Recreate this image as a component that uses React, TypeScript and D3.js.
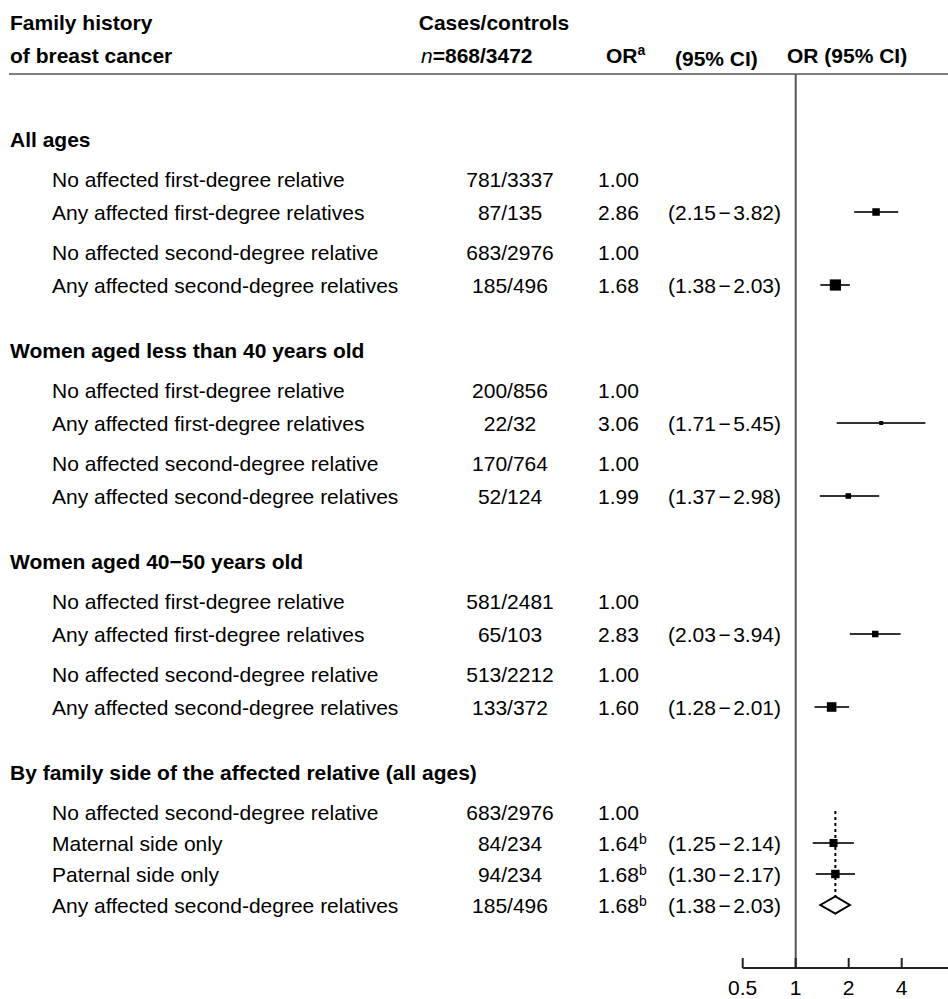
import React from "react";
import * as d3 from "d3";

// section titles and row data
const sectionTitles = [
  "All ages",
  "Women aged less than 40 years old",
  "Women aged  40\u221250 years old",
  "By family side of the affected relative (all ages)",
];

const rowSection = [0, 0, 0, 0, 1, 1, 1, 1, 2, 2, 2, 2, 3, 3, 3, 3];
const rowGroup = [0, 0, 1, 1, 2, 2, 3, 3, 4, 4, 5, 5, 6, 6, 6, 6];

const rowLabels = [
  "No affected first-degree relative",
  "Any affected first-degree relatives",
  "No affected second-degree relative",
  "Any affected second-degree relatives",
  "No affected first-degree relative",
  "Any affected first-degree relatives",
  "No affected second-degree relative",
  "Any affected second-degree relatives",
  "No affected first-degree relative",
  "Any affected first-degree relatives",
  "No affected second-degree relative",
  "Any affected second-degree relatives",
  "No affected second-degree relative",
  "Maternal side only",
  "Paternal side only",
  "Any affected second-degree relatives",
];

const casesControls = [
  "781/3337", "87/135", "683/2976", "185/496",
  "200/856", "22/32", "170/764", "52/124",
  "581/2481", "65/103", "513/2212", "133/372",
  "683/2976", "84/234", "94/234", "185/496",
];

const oddsRatios = [
  1.0, 2.86, 1.0, 1.68,
  1.0, 3.06, 1.0, 1.99,
  1.0, 2.83, 1.0, 1.6,
  1.0, 1.64, 1.68, 1.68,
];

const ciLower: (number | null)[] = [
  null, 2.15, null, 1.38,
  null, 1.71, null, 1.37,
  null, 2.03, null, 1.28,
  null, 1.25, 1.3, 1.38,
];

const ciUpper: (number | null)[] = [
  null, 3.82, null, 2.03,
  null, 5.45, null, 2.98,
  null, 3.94, null, 2.01,
  null, 2.14, 2.17, 2.03,
];

const orNotes = [
  "", "", "", "",
  "", "", "", "",
  "", "", "", "",
  "", "b", "b", "b",
];

const markerType = [
  "none", "square", "none", "square",
  "none", "square", "none", "square",
  "none", "square", "none", "square",
  "none", "square", "square", "diamond",
];

const axisTicks = [0.5, 1, 2, 4];
const axisTickLabels = ["0.5", "1", "2", "4"];

const FONT = "'Liberation Sans', Arial, Helvetica, sans-serif";
const W = 948;
const H = 999;

const fmt = d3.format(".2f");

export default function App() {
  // row layout
  const START_Y = 139;
  const HEADER_GAP = 40;
  const PAIR_GAP = 33;
  const TIGHT_GAP = 31;
  const GROUP_GAP = 40;
  const SECTION_GAP = 65;

  const groupSizes = d3.rollup(rowGroup, (v) => v.length, (g) => g);
  const rowY: number[] = [];
  const headerY: number[] = [];
  let y = START_Y;
  rowLabels.forEach((_, i) => {
    if (i === 0) {
      headerY.push(y);
      y += HEADER_GAP;
    } else if (rowSection[i] !== rowSection[i - 1]) {
      y += SECTION_GAP;
      headerY.push(y);
      y += HEADER_GAP;
    } else if (rowGroup[i] !== rowGroup[i - 1]) {
      y += GROUP_GAP;
    } else {
      y += (groupSizes.get(rowGroup[i]) ?? 2) > 2 ? TIGHT_GAP : PAIR_GAP;
    }
    rowY.push(y);
  });

  const x = d3.scaleLog().base(2).domain([0.5, 4]).range([742.7, 901.7]);

  // square size from inverse-variance weight
  const se = oddsRatios.map((_, i) =>
    ciLower[i] != null && ciUpper[i] != null
      ? (Math.log(ciUpper[i]!) - Math.log(ciLower[i]!)) / (2 * 1.96)
      : null
  );
  const weights = se.map((s) => (s ? 1 / (s * s) : 0));
  const size = d3
    .scaleSqrt()
    .domain([0, d3.max(weights)!])
    .range([0, 11.2]);

  const axisY = 968;
  const ruleY = 74;
  const base = 7.5; // text baseline below row centre

  const headerX = 10;
  const labelX = 52;
  const casesX = 510;
  const orX = 598;
  const ciX = 668;

  const pooledIdx = markerType.indexOf("diamond");
  const refIdx = 12;

  return (
    <svg
      width={W}
      height={H}
      style={{ position: "absolute", left: 0, top: 0, display: "block", background: "#fff" }}
      fontFamily={FONT}
      fontSize={21}
      fill="#000"
    >
      {/* column headings */}
      <g fontWeight="bold">
        <text x={headerX} y={30}>Family history</text>
        <text x={headerX} y={63}>of breast cancer</text>
        <text x={494} y={30} textAnchor="middle">Cases/controls</text>
        <text x={421} y={63}>
          <tspan fontStyle="italic" fontWeight="normal">n</tspan>=868/3472
        </text>
        <text x={606} y={63}>
          OR<tspan fontSize={14} dy={-8}>a</tspan>
        </text>
        <text x={675} y={66}>(95% CI)</text>
        <text x={787} y={63}>OR (95% CI)</text>
      </g>

      <line x1={9} x2={W} y1={ruleY} y2={ruleY} stroke="#555" strokeWidth={1.5} />

      {/* OR = 1 reference line */}
      <line x1={x(1)} x2={x(1)} y1={ruleY} y2={axisY} stroke="#555" strokeWidth={2} />

      {/* section titles */}
      {sectionTitles.map((t, s) => (
        <text key={"s" + s} x={headerX} y={headerY[s] + base} fontWeight="bold">
          {t}
        </text>
      ))}

      {/* rows */}
      {rowLabels.map((lab, i) => (
        <g key={"r" + i}>
          <text x={labelX} y={rowY[i] + base}>{lab}</text>
          <text x={casesX} y={rowY[i] + base} textAnchor="middle">
            {casesControls[i]}
          </text>
          <text x={orX} y={rowY[i] + base}>
            {fmt(oddsRatios[i])}
            {orNotes[i] && (
              <tspan fontSize={14} dy={-7}>
                {orNotes[i]}
              </tspan>
            )}
          </text>
          {ciLower[i] != null && (
            <text x={ciX} y={rowY[i] + base}>
              ({fmt(ciLower[i]!)}
              <tspan dx={2.5}>{"\u2212"}</tspan>
              <tspan dx={2.5}>{fmt(ciUpper[i]!)})</tspan>
            </text>
          )}
        </g>
      ))}

      {/* dotted line at the pooled estimate */}
      <line
        x1={x(oddsRatios[pooledIdx])}
        x2={x(oddsRatios[pooledIdx])}
        y1={rowY[refIdx] - 1}
        y2={rowY[pooledIdx] - 8.5}
        stroke="#000"
        strokeWidth={2}
        strokeDasharray="3,3"
      />

      {/* estimates */}
      {markerType.map((m, i) => {
        if (m === "square") {
          const s = Math.max(4, size(weights[i]));
          return (
            <g key={"m" + i}>
              <line
                x1={x(ciLower[i]!)}
                x2={x(ciUpper[i]!)}
                y1={rowY[i]}
                y2={rowY[i]}
                stroke="#333"
                strokeWidth={2}
              />
              <rect x={x(oddsRatios[i]) - s / 2} y={rowY[i] - s / 2} width={s} height={s} fill="#000" />
            </g>
          );
        }
        if (m === "diamond") {
          const cy = rowY[i];
          const pts = [
            [x(ciLower[i]!), cy],
            [x(oddsRatios[i]), cy - 8.5],
            [x(ciUpper[i]!), cy],
            [x(oddsRatios[i]), cy + 8.5],
          ];
          return (
            <polygon
              key={"m" + i}
              points={pts.map((p) => p.join(",")).join(" ")}
              fill="#fff"
              stroke="#000"
              strokeWidth={2}
            />
          );
        }
        return null;
      })}

      {/* x axis */}
      <line x1={x(0.5)} x2={W} y1={axisY} y2={axisY} stroke="#222" strokeWidth={2} />
      {axisTicks.map((t, k) => (
        <g key={"t" + k}>
          <line x1={x(t)} x2={x(t)} y1={axisY} y2={axisY - 10} stroke="#222" strokeWidth={2} />
          <text x={x(t)} y={995} textAnchor="middle">
            {axisTickLabels[k]}
          </text>
        </g>
      ))}
    </svg>
  );
}
